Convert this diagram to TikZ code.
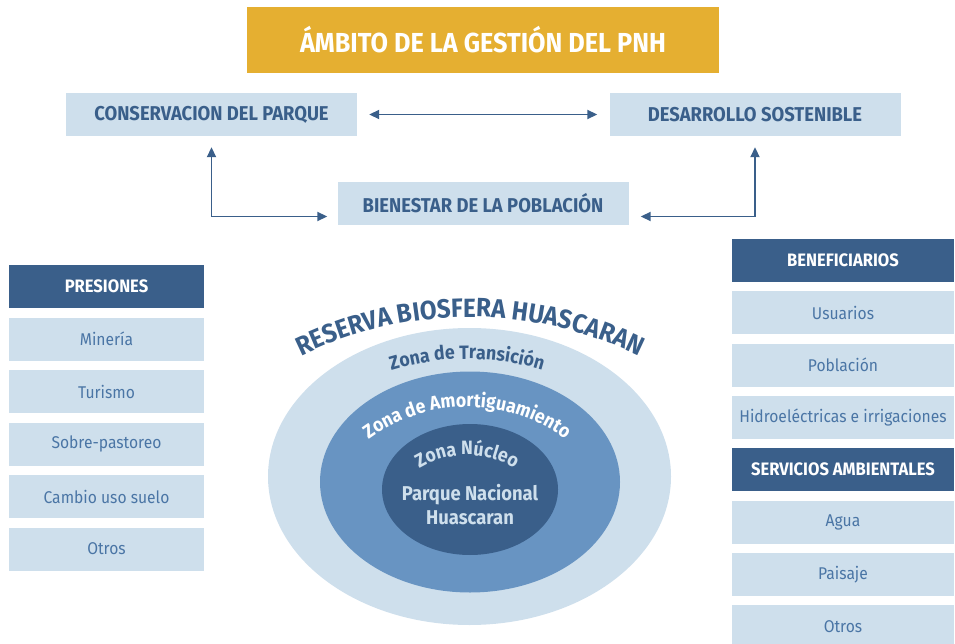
\documentclass[tikz,border=0pt]{standalone}
\usepackage{fontspec}
\setmainfont{Fira Sans}[FakeStretch=0.92]
\usetikzlibrary{arrows.meta,decorations.text}
\definecolor{gold}{HTML}{E5AF31}
\definecolor{pale}{HTML}{CEDFEC}
\definecolor{deep}{HTML}{3A5F8A}
\definecolor{mid}{HTML}{6894C2}
\definecolor{txt}{HTML}{4A75A5}
\newcommand\reservafont{\fontsize{26.4}{26.4}\selectfont\bfseries}
\newcommand\zonefont{\fontsize{19.3}{19.3}\selectfont\bfseries}
\tikzset{
    box/.style={fill=pale, minimum width=291pt, minimum height=43pt, inner sep=0pt,
        text=deep, font=\fontsize{20}{20}\selectfont\bfseries},
    head/.style={fill=deep, minimum height=43pt, inner sep=0pt,
        text=white, font=\fontsize{18}{18}\selectfont\bfseries},
    item/.style={fill=pale, minimum height=43pt, inner sep=0pt,
        text=txt, font=\fontsize{17}{17}\selectfont},
    link/.style={draw=deep, line width=1.8pt,
        {Triangle[length=10pt,width=9pt]}-{Triangle[length=10pt,width=9pt]}}
}
\begin{document}
\begin{tikzpicture}[x=1pt,y=1pt]
        \useasboundingbox (0,0) rectangle (955,-644);
        \clip (0,0) rectangle (955,-644);
        % top
        \node[fill=gold, minimum width=472pt, minimum height=66pt, inner sep=0pt, text=white,
            font=\fontsize{27.5}{27.5}\selectfont\bfseries] (ambito) at (483,-40) {ÁMBITO DE LA GESTIÓN DEL PNH};
        \node[box] (cons) at (211.5,-114.5) {CONSERVACION DEL PARQUE};
        \node[box] (des) at (755,-114.5) {DESARROLLO SOSTENIBLE};
        \node[box] (bien) at (483,-203.5) {BIENESTAR DE LA POBLACIÓN};
        \draw[link, shorten <=12pt, shorten >=12pt] (cons) -- (des);
        \draw[link, shorten <=11pt, shorten >=10pt] (cons.south) |- ([yshift=-13pt]bien.west);
        \draw[link, shorten <=11pt, shorten >=12pt] (des.south) |- ([yshift=-13pt]bien.east);
        % presiones
        \node[head, minimum width=195pt] (pres) at (106.5,-286.5) {PRESIONES};
        \foreach \t [count=\i] in {Minería, Turismo, Sobre-pastoreo, Cambio uso suelo, Otros}
            \node[item, minimum width=195pt] (pres\i) at (106.5,-286.5-52.5*\i) {\t};
        % beneficiarios y servicios
        \foreach \t/\s [count=\i from 0] in {BENEFICIARIOS/head, Usuarios/item, Población/item,
                Hidroeléctricas e irrigaciones/item, SERVICIOS AMBIENTALES/head, Agua/item,
                Paisaje/item, Otros/item}
            \node[\s, minimum width=222pt] (ben\i) at (843,-260.5-52.3*\i) {\t};
        % reserva
        \fill[pale] (469.5,-476.5) ellipse [x radius=201.5pt, y radius=148.5pt];
        \fill[mid] (470,-482) ellipse [x radius=150pt, y radius=110.5pt];
        \fill[deep] (470,-489.5) ellipse [x radius=88pt, y radius=65.5pt];
        \path[decorate, decoration={text along path, text align=center, text color=deep,
            text={|\reservafont|RESERVA BIOSFERA HUASCARAN}}]
            (470,-700) ++(120:383pt) arc [start angle=120, end angle=60, radius=383pt];
        \path[decorate, decoration={text along path, text align=center, text color=deep,
            text={|\zonefont|Zona de Transición}}]
            (467,-618) ++(115:259pt) arc [start angle=115, end angle=65, radius=259pt];
        \path[decorate, decoration={text along path, text align=center, text color=white,
            text={|\zonefont|Zona de Amortiguamiento}}]
            (467,-573) ++(140:166pt) arc [start angle=140, end angle=40, radius=166pt];
        \path[decorate, decoration={text along path, text align=center, text color=pale,
            text={|\zonefont|Zona Núcleo}}]
            (467,-546) ++(135:91pt) arc [start angle=135, end angle=45, radius=91pt];
        \node[text=pale, align=center, font=\fontsize{20}{24}\selectfont\bfseries] (pnh)
            at (470,-505) {Parque Nacional\\Huascaran};
\end{tikzpicture}
\end{document}
